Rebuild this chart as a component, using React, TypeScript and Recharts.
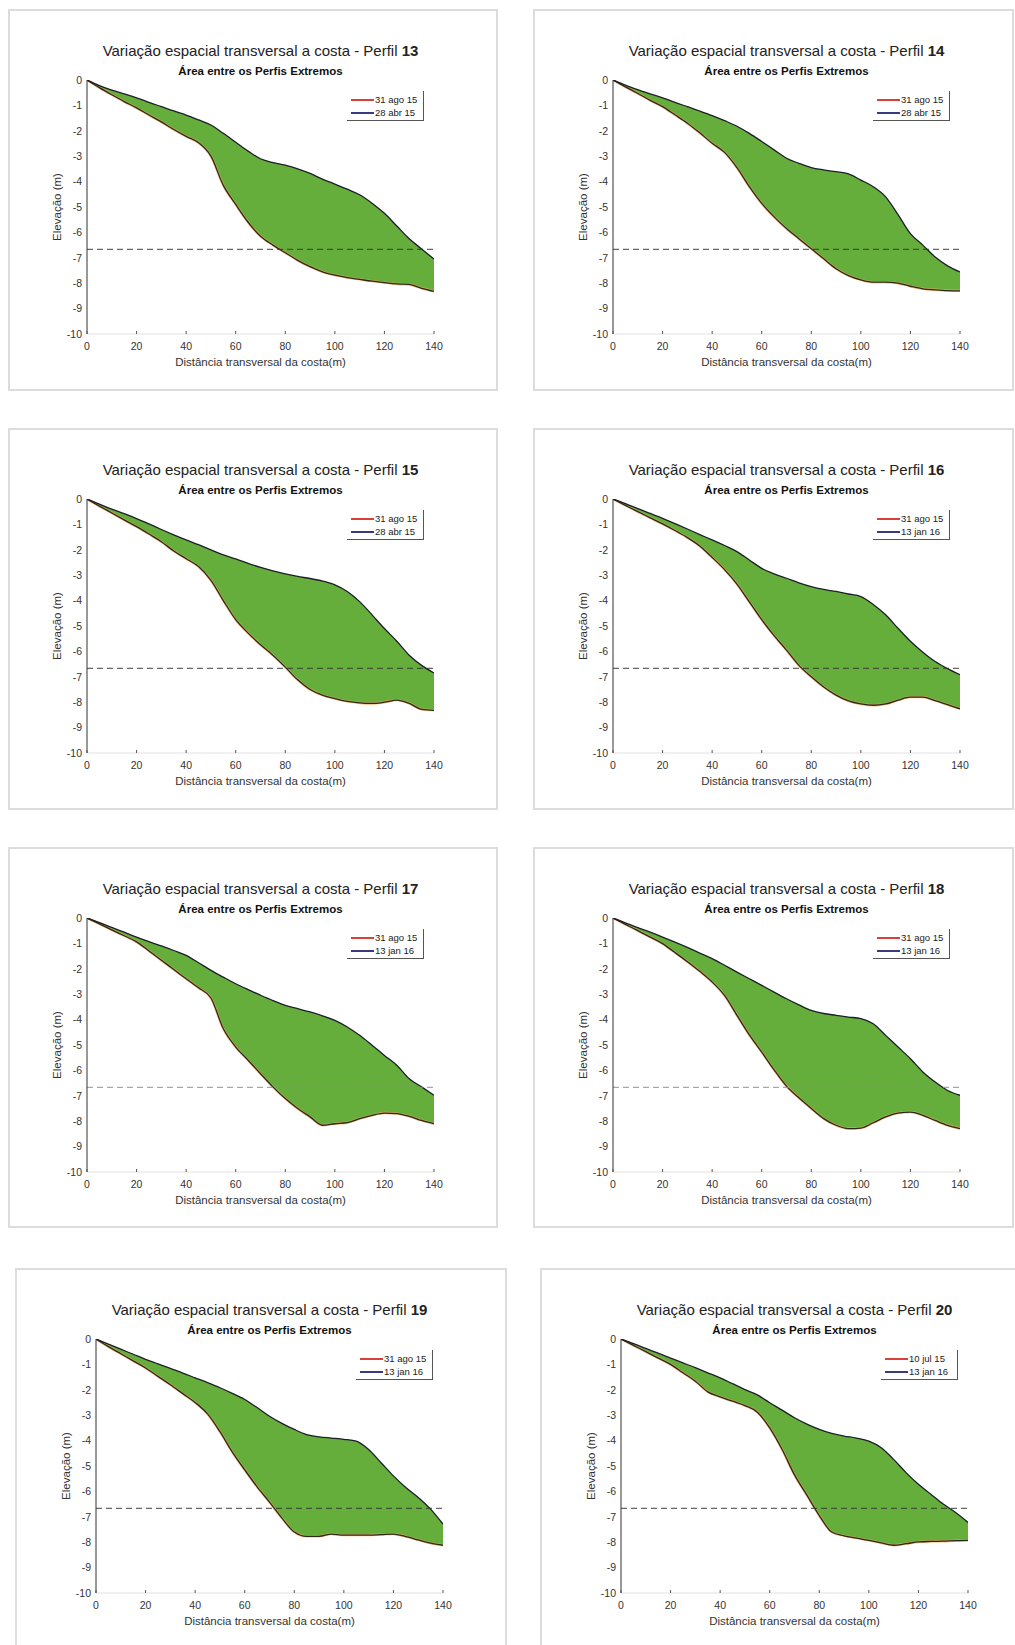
import React from 'react';
import { ComposedChart, Area, Line, XAxis, YAxis, ReferenceLine } from 'recharts';

const FONT = '"Liberation Sans", Arial, Helvetica, sans-serif';

// ---------- data ----------
const DISTANCE = [0, 5, 10, 15, 20, 25, 30, 35, 40, 45, 50, 55, 60, 65, 70, 75, 80, 85, 90, 95, 100, 105, 110, 115, 120, 125, 130, 135, 140];
const X_TICKS = [0, 20, 40, 60, 80, 100, 120, 140];
const Y_TICKS = [0, -1, -2, -3, -4, -5, -6, -7, -8, -9, -10];
const CLOSURE_DEPTH = -6.67;

const P13_UPPER = [0, -0.22, -0.4, -0.55, -0.7, -0.88, -1.05, -1.22, -1.38, -1.57, -1.77, -2.1, -2.45, -2.8, -3.1, -3.25, -3.35, -3.5, -3.68, -3.9, -4.1, -4.3, -4.52, -4.85, -5.25, -5.75, -6.25, -6.65, -7.05];
const P13_LOWER = [0, -0.3, -0.58, -0.85, -1.1, -1.38, -1.65, -1.95, -2.22, -2.47, -3.0, -4.15, -4.9, -5.6, -6.15, -6.5, -6.8, -7.1, -7.35, -7.55, -7.68, -7.78, -7.85, -7.92, -7.98, -8.03, -8.05, -8.2, -8.32];

const P14_UPPER = [0, -0.2, -0.38, -0.55, -0.7, -0.88, -1.05, -1.22, -1.4, -1.6, -1.82, -2.1, -2.42, -2.75, -3.08, -3.28, -3.45, -3.54, -3.61, -3.7, -3.94, -4.2, -4.6, -5.3, -6.05, -6.5, -6.97, -7.32, -7.56];
const P14_LOWER = [0, -0.27, -0.53, -0.8, -1.05, -1.37, -1.7, -2.08, -2.49, -2.85, -3.45, -4.2, -4.86, -5.39, -5.85, -6.25, -6.64, -7.04, -7.43, -7.7, -7.87, -7.96, -7.96, -8.0, -8.12, -8.22, -8.26, -8.29, -8.3];

const P15_UPPER = [0, -0.2, -0.4, -0.58, -0.77, -0.98, -1.2, -1.41, -1.61, -1.8, -2.0, -2.2, -2.36, -2.53, -2.69, -2.83, -2.95, -3.05, -3.13, -3.23, -3.38, -3.64, -4.04, -4.56, -5.1, -5.6, -6.15, -6.55, -6.85];
const P15_LOWER = [0, -0.28, -0.55, -0.82, -1.09, -1.38, -1.68, -2.05, -2.35, -2.66, -3.2, -4.0, -4.75, -5.28, -5.74, -6.15, -6.62, -7.12, -7.5, -7.72, -7.86, -7.97, -8.03, -8.05, -8.0, -7.92, -8.05, -8.28, -8.32];

const P16_UPPER = [0, -0.18, -0.38, -0.57, -0.76, -0.97, -1.18, -1.4, -1.61, -1.83, -2.07, -2.4, -2.73, -2.95, -3.12, -3.3, -3.45, -3.56, -3.64, -3.74, -3.84, -4.15, -4.56, -5.09, -5.6, -6.03, -6.4, -6.68, -6.92];
const P16_LOWER = [0, -0.25, -0.5, -0.74, -0.98, -1.24, -1.52, -1.85, -2.3, -2.78, -3.35, -4.05, -4.75, -5.38, -5.95, -6.55, -7.0, -7.4, -7.72, -7.95, -8.07, -8.12, -8.07, -7.92, -7.8, -7.8, -7.94, -8.1, -8.26];

const P17_UPPER = [0, -0.18, -0.37, -0.56, -0.75, -0.93, -1.1, -1.28, -1.47, -1.76, -2.06, -2.33, -2.59, -2.82, -3.04, -3.25, -3.44, -3.57, -3.7, -3.85, -4.03, -4.29, -4.62, -5.01, -5.41, -5.8, -6.33, -6.65, -6.98];
const P17_LOWER = [0, -0.23, -0.47, -0.7, -0.94, -1.3, -1.66, -2.03, -2.39, -2.75, -3.15, -4.36, -5.08, -5.6, -6.13, -6.65, -7.11, -7.5, -7.83, -8.16, -8.1, -8.06, -7.9, -7.77, -7.68, -7.7, -7.81, -7.97, -8.1];

const P18_UPPER = [0, -0.19, -0.38, -0.56, -0.75, -0.95, -1.16, -1.38, -1.6, -1.86, -2.13, -2.39, -2.65, -2.92, -3.18, -3.42, -3.64, -3.76, -3.83, -3.9, -3.96, -4.16, -4.62, -5.08, -5.54, -6.06, -6.46, -6.79, -6.98];
const P18_LOWER = [0, -0.25, -0.5, -0.75, -1.01, -1.36, -1.72, -2.1, -2.52, -3.05, -3.83, -4.6, -5.28, -5.98, -6.62, -7.08, -7.5, -7.9, -8.16, -8.29, -8.27, -8.06, -7.83, -7.68, -7.64, -7.77, -7.97, -8.16, -8.29];

const P19_UPPER = [0, -0.2, -0.4, -0.6, -0.8, -0.98, -1.16, -1.34, -1.53, -1.72, -1.92, -2.14, -2.38, -2.7, -3.04, -3.32, -3.56, -3.76, -3.85, -3.9, -3.95, -4.02, -4.35, -4.87, -5.39, -5.85, -6.24, -6.7, -7.29];
const P19_LOWER = [0, -0.3, -0.58, -0.86, -1.14, -1.47, -1.8, -2.15, -2.5, -2.95, -3.65, -4.45, -5.15, -5.82, -6.42, -7.05, -7.6, -7.77, -7.77, -7.68, -7.72, -7.72, -7.72, -7.7, -7.68, -7.78, -7.91, -8.04, -8.12];

const P20_UPPER = [0, -0.18, -0.37, -0.56, -0.75, -0.94, -1.13, -1.33, -1.53, -1.76, -1.99, -2.2, -2.51, -2.8, -3.1, -3.35, -3.56, -3.72, -3.82, -3.9, -4.02, -4.28, -4.74, -5.26, -5.72, -6.11, -6.5, -6.83, -7.22];
const P20_LOWER = [0, -0.25, -0.5, -0.75, -1.0, -1.33, -1.66, -2.08, -2.28, -2.45, -2.62, -2.88, -3.5, -4.35, -5.35, -6.15, -6.95, -7.6, -7.75, -7.84, -7.93, -8.03, -8.12, -8.06, -7.99, -7.97, -7.96, -7.94, -7.93];

const LEGEND_A = ['31 ago 15', '28 abr 15'];
const LEGEND_B = ['31 ago 15', '13 jan 16'];
const LEGEND_C = ['10 jul 15', '13 jan 16'];

const TITLE = 'Variação espacial transversal a costa - Perfil ';
const SUBTITLE = 'Área entre os Perfis Extremos';
const X_LABEL = 'Distância transversal da costa(m)';
const Y_LABEL = 'Elevação (m)';

// ---------- layout ----------
const CW = 490;
const CH = 382;
const M = { top: 71, right: 64, bottom: 27, left: 39 };
const YW = 40;
const XH = 30;
const PL = M.left + YW; // plot left inside chart
const PT = M.top;
const PW = CW - PL - M.right;
const PH = CH - PT - XH - M.bottom;

const GREEN = '#66ae3b';
const RED = '#d8403a';
const BLUE = '#3a3a80';

const PANELS = [
  { perfil: '13', upper: P13_UPPER, lower: P13_LOWER, legend: LEGEND_A, box: [8, 9, 490, 382], chart: [8, 9], dash: '#333' },
  { perfil: '14', upper: P14_UPPER, lower: P14_LOWER, legend: LEGEND_A, box: [533, 9, 481, 382], chart: [534, 9], dash: '#333' },
  { perfil: '15', upper: P15_UPPER, lower: P15_LOWER, legend: LEGEND_A, box: [8, 428, 490, 382], chart: [8, 428], dash: '#333' },
  { perfil: '16', upper: P16_UPPER, lower: P16_LOWER, legend: LEGEND_B, box: [533, 428, 481, 382], chart: [534, 428], dash: '#333' },
  { perfil: '17', upper: P17_UPPER, lower: P17_LOWER, legend: LEGEND_B, box: [8, 847, 490, 381], chart: [8, 847], dash: '#8a8a8a' },
  { perfil: '18', upper: P18_UPPER, lower: P18_LOWER, legend: LEGEND_B, box: [533, 847, 481, 381], chart: [534, 847], dash: '#8a8a8a' },
  { perfil: '19', upper: P19_UPPER, lower: P19_LOWER, legend: LEGEND_B, box: [15, 1268, 492, 390], chart: [17, 1268], dash: '#333' },
  { perfil: '20', upper: P20_UPPER, lower: P20_LOWER, legend: LEGEND_C, box: [540, 1268, 492, 390], chart: [542, 1268], dash: '#333' },
];

// ---------- ticks ----------
const BottomTick = (props: any) => {
  const { x, y, payload } = props;
  return (
    <g>
      <line x1={x} x2={x} y1={y} y2={y - 3} stroke="#555" strokeWidth={1} />
      <text x={x} y={y + 16} textAnchor="middle" fontSize={10.5} fill="#333" fontFamily={FONT}>
        {payload.value}
      </text>
    </g>
  );
};

const TopTick = (props: any) => {
  const { x, y } = props;
  return <line x1={x} x2={x} y1={y} y2={y + 3} stroke="#555" strokeWidth={1} />;
};

const RightTick = (props: any) => {
  const { x, y } = props;
  return <line x1={x - 3} x2={x} y1={y} y2={y} stroke="#555" strokeWidth={1} />;
};

// ---------- panel ----------
const Panel = ({ spec }: { spec: any }) => {
  const rows = DISTANCE.map((d, i) => ({
    x: d,
    lo: spec.lower[i],
    hi: spec.upper[i],
    range: [spec.lower[i], spec.upper[i]],
  }));
  const [bx, by, bw, bh] = spec.box;
  const [cx, cy] = spec.chart;
  const plotCenterX = PL + PW / 2;
  const plotCenterY = PT + PH / 2;
  return (
    <>
      <div
        style={{
          position: 'absolute',
          left: bx,
          top: by,
          width: bw,
          height: bh,
          border: '2px solid #dcdcdc',
          boxSizing: 'border-box',
        }}
      />
      <div style={{ position: 'absolute', left: cx, top: cy, width: CW, height: CH }}>
        <ComposedChart width={CW} height={CH} data={rows} margin={M}>
          <XAxis
            dataKey="x"
            type="number"
            domain={[0, 140]}
            ticks={X_TICKS}
            interval={0}
            height={XH}
            allowDataOverflow
            axisLine={{ stroke: '#e2e2e2' }}
            tickLine={false}
            tickSize={0}
            tickMargin={0}
            tick={<BottomTick />}
          />
          <XAxis
            xAxisId="top"
            orientation="top"
            dataKey="x"
            type="number"
            domain={[0, 140]}
            ticks={X_TICKS}
            interval={0}
            height={0}
            allowDataOverflow
            axisLine={{ stroke: '#222', strokeWidth: 1 }}
            tickLine={false}
            tickSize={0}
            tickMargin={0}
            tick={<TopTick />}
          />
          <YAxis
            type="number"
            domain={[-10, 0]}
            ticks={Y_TICKS}
            interval={0}
            width={YW}
            allowDataOverflow
            axisLine={{ stroke: '#333', strokeWidth: 1 }}
            tickLine={false}
            tickSize={0}
            tickMargin={5}
            tick={{ fontSize: 10.5, fill: '#333', fontFamily: FONT }}
          />
          <YAxis
            yAxisId="right"
            orientation="right"
            type="number"
            domain={[-10, 0]}
            ticks={Y_TICKS}
            interval={0}
            width={0}
            allowDataOverflow
            axisLine={{ stroke: '#ececec' }}
            tickLine={false}
            tickSize={0}
            tickMargin={0}
            tick={<RightTick />}
          />
          <Line dataKey="lo" type="monotoneX" stroke="#f0a868" strokeWidth={2.4} strokeOpacity={0.8} dot={false} activeDot={false} isAnimationActive={false} />
          <Area dataKey="range" type="monotoneX" fill={GREEN} fillOpacity={1} stroke="none" isAnimationActive={false} activeDot={false} />
          <Line dataKey="lo" type="monotoneX" stroke="#2b2a18" strokeWidth={1.3} dot={false} activeDot={false} isAnimationActive={false} />
          <Line dataKey="hi" type="monotoneX" stroke="#1c1e2a" strokeWidth={1.3} dot={false} activeDot={false} isAnimationActive={false} />
          <ReferenceLine y={CLOSURE_DEPTH} stroke={spec.dash} strokeOpacity={0.75} strokeDasharray="6 4" strokeWidth={1.1} />
        </ComposedChart>

        {/* title */}
        <div
          style={{
            position: 'absolute',
            left: plotCenterX - 250,
            width: 500,
            top: 33,
            height: 18,
            lineHeight: '18px',
            textAlign: 'center',
            fontFamily: FONT,
            fontSize: 15,
            color: '#222',
            whiteSpace: 'nowrap',
          }}
        >
          {TITLE}
          <b>{spec.perfil}</b>
        </div>
        {/* subtitle */}
        <div
          style={{
            position: 'absolute',
            left: plotCenterX - 200,
            width: 400,
            top: 55,
            height: 14,
            lineHeight: '14px',
            textAlign: 'center',
            fontFamily: FONT,
            fontSize: 11.5,
            fontWeight: 'bold',
            color: '#111',
            whiteSpace: 'nowrap',
          }}
        >
          {SUBTITLE}
        </div>
        {/* x label */}
        <div
          style={{
            position: 'absolute',
            left: plotCenterX - 200,
            width: 400,
            top: PT + PH + 21,
            height: 14,
            lineHeight: '14px',
            textAlign: 'center',
            fontFamily: FONT,
            fontSize: 11.5,
            color: '#333',
            whiteSpace: 'nowrap',
          }}
        >
          {X_LABEL}
        </div>
        {/* y label */}
        <div
          style={{
            position: 'absolute',
            left: 49 - 100,
            width: 200,
            top: plotCenterY - 7,
            height: 14,
            lineHeight: '14px',
            textAlign: 'center',
            fontFamily: FONT,
            fontSize: 11.5,
            color: '#333',
            whiteSpace: 'nowrap',
            transform: 'rotate(-90deg)',
          }}
        >
          {Y_LABEL}
        </div>
        {/* legend */}
        <div
          style={{
            position: 'absolute',
            left: PL + 260,
            top: PT + 11,
            width: 77,
            height: 30,
            borderRight: '1px solid #555',
            borderBottom: '1px solid #555',
            boxSizing: 'border-box',
            background: '#fff',
            fontFamily: FONT,
            fontSize: 9.5,
            color: '#222',
          }}
        >
          {spec.legend.map((lab: string, i: number) => (
            <div key={lab + i} style={{ position: 'absolute', left: 0, top: 3 + i * 13, height: 12, width: 77 }}>
              <div
                style={{
                  position: 'absolute',
                  left: 4,
                  top: 5,
                  width: 23,
                  height: 2,
                  background: i === 0 ? RED : BLUE,
                }}
              />
              <div style={{ position: 'absolute', left: 28, top: 0, lineHeight: '12px', whiteSpace: 'nowrap' }}>{lab}</div>
            </div>
          ))}
        </div>
      </div>
    </>
  );
};

export default function App() {
  return (
    <div
      style={{
        position: 'absolute',
        left: 0,
        top: 0,
        width: 1015,
        height: 1645,
        background: '#fff',
        overflow: 'hidden',
      }}
    >
      {PANELS.map((p) => (
        <Panel key={p.perfil} spec={p} />
      ))}
    </div>
  );
}
